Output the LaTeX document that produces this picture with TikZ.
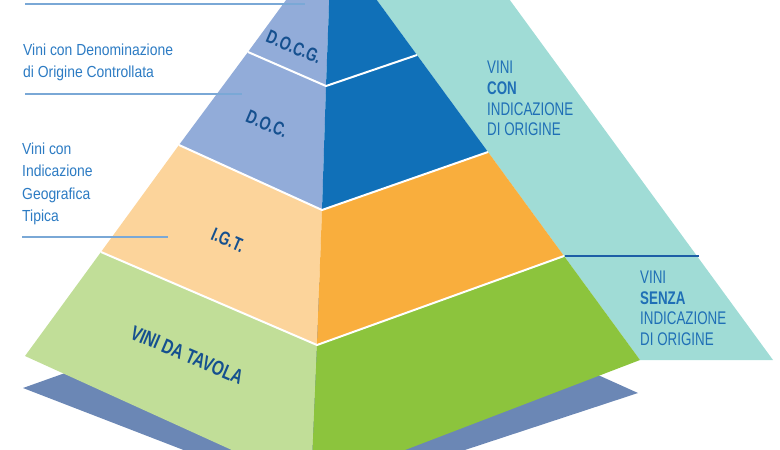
\documentclass[tikz,border=0pt]{standalone}
\usepackage{fontspec}
\newfontfamily\condL{Liberation Sans}[FakeStretch=0.87]
\newfontfamily\condR{Liberation Sans}[FakeStretch=0.73]
\newfontfamily\condB{Liberation Sans}[FakeStretch=0.74]
\definecolor{faceLB}{HTML}{92ACD9}
\definecolor{faceDB}{HTML}{1070B8}
\definecolor{faceLO}{HTML}{FCD49B}
\definecolor{faceO}{HTML}{F9AE3D}
\definecolor{faceLG}{HTML}{C1DE98}
\definecolor{faceG}{HTML}{8CC43D}
\definecolor{teal}{HTML}{A0DCD6}
\definecolor{basec}{HTML}{6B87B5}
\definecolor{linec}{HTML}{7AA8D6}
\definecolor{sepc}{HTML}{1D5EA6}
\definecolor{txtL}{HTML}{2C7BC3}
\definecolor{txtR}{HTML}{1F6FB6}
\definecolor{txtN}{HTML}{15508F}
\tikzset{
  lefttxt/.style={anchor=base west, inner sep=0pt, text=txtL, font=\condL\fontsize{16}{18}\selectfont},
  righttxt/.style={anchor=base west, inner sep=0pt, text=txtR, font=\condR\fontsize{18.3}{20}\selectfont},
  levtxt/.style={inner sep=0pt, text=txtN, rotate=-23, font=\condB\bfseries\fontsize{19}{20}\selectfont},
  tierline/.style={white, line width=2pt},
  labline/.style={linec, line width=1.3pt},
}
\begin{document}
\begin{tikzpicture}[x=1pt,y=-1pt]
\useasboundingbox (0,0) rectangle (780,450);
\clip (0,0) rectangle (780,450);
% key points
\coordinate (A) at (331.5,-62);
\coordinate (L1) at (248,52);  \coordinate (C1) at (326,86);  \coordinate (R1) at (417,55);
\coordinate (L2) at (179,145); \coordinate (C2) at (322,210); \coordinate (R2) at (488,152);
\coordinate (L3) at (101,252); \coordinate (C3) at (317,345); \coordinate (R3) at (564,256);
\coordinate (L4) at (25,356);  \coordinate (C4) at (311,486); \coordinate (R4) at (640,360);
% teal band
\fill[teal] (A) -- (R4) -- (773,360) -- (464.5,-62) -- cycle;
% base
\fill[basec] (23,388) -- (360,268) -- (638,393) -- (313,500) -- cycle;
% faces
\fill[faceLB] (A) -- (L1) -- (C1) -- cycle;
\fill[faceDB] (A) -- (C1) -- (R1) -- cycle;
\fill[faceLB] (L1) -- (L2) -- (C2) -- (C1) -- cycle;
\fill[faceDB] (C1) -- (C2) -- (R2) -- (R1) -- cycle;
\fill[faceLO] (L2) -- (L3) -- (C3) -- (C2) -- cycle;
\fill[faceO] (C2) -- (C3) -- (R3) -- (R2) -- cycle;
\fill[faceLG] (L3) -- (L4) -- (C4) -- (C3) -- cycle;
\fill[faceG] (C3) -- (C4) -- (R4) -- (R3) -- cycle;
% tier separators
\draw[tierline] (L1) -- (C1) -- (R1);
\draw[tierline] (L2) -- (C2) -- (R2);
\draw[tierline] (L3) -- (C3) -- (R3);
% separator in teal band
\draw[sepc, line width=2.5pt] (565,256) -- (699,256);
% label lines
\draw[labline] (25,4) -- (305,4);
\draw[labline] (25,94) -- (242,94);
\draw[labline] (22,237) -- (168,237);
% left texts
\node[lefttxt] (t1) at (23,55) {Vini con Denominazione};
\node[lefttxt] (t2) at (23,77.5) {di Origine Controllata};
\node[lefttxt] (t3) at (22,154) {Vini con};
\node[lefttxt] (t4) at (22,176.5) {Indicazione};
\node[lefttxt] (t5) at (22,199) {Geografica};
\node[lefttxt] (t6) at (22,221.5) {Tipica};
% right texts
\node[righttxt] (r1) at (487,73) {VINI};
\node[righttxt] (r2) at (487,94) {\bfseries CON};
\node[righttxt] (r3) at (487,115) {INDICAZIONE};
\node[righttxt] (r4) at (487,135.5) {DI ORIGINE};
\node[righttxt] (s1) at (640,283) {VINI};
\node[righttxt] (s2) at (640,304) {\bfseries SENZA};
\node[righttxt] (s3) at (640,324.5) {INDICAZIONE};
\node[righttxt] (s4) at (640,345) {DI ORIGINE};
% level labels
\node[levtxt] (docg) at (294,47) {D.O.C.G.};
\node[levtxt] (doc) at (267,124) {D.O.C.};
\node[levtxt] (igt) at (228,240) {I.G.T.};
\node[levtxt, font=\condB\bfseries\fontsize{20.5}{22}\selectfont] (vdt) at (187,355) {VINI DA TAVOLA};
\end{tikzpicture}
\end{document}
